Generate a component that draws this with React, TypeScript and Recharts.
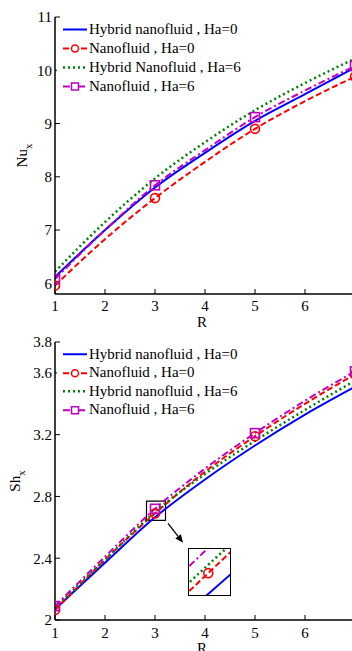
import React from 'react';
import { LineChart, Line, XAxis, YAxis, Legend, ReferenceArea, ReferenceLine } from 'recharts';

// ---------- data ----------
const R = [1, 2, 3, 4, 5, 6, 7];
const nuHybridHa0 = [6.12, 7.0, 7.8, 8.45, 9.05, 9.55, 10.05];
const nuNanoHa0 = [5.96, 6.83, 7.6, 8.28, 8.9, 9.42, 9.88];
const nuHybridHa6 = [6.22, 7.15, 7.97, 8.65, 9.25, 9.76, 10.22];
const nuNanoHa6 = [6.08, 7.0, 7.84, 8.5, 9.12, 9.62, 10.08];

const shHybridHa0 = [2.07, 2.37, 2.665, 2.91, 3.13, 3.33, 3.51];
const shNanoHa0 = [2.065, 2.39, 2.69, 2.96, 3.19, 3.4, 3.59];
const shHybridHa6 = [2.08, 2.39, 2.7, 2.945, 3.16, 3.36, 3.55];
const shNanoHa6 = [2.09, 2.41, 2.72, 2.98, 3.21, 3.42, 3.61];

const xTicks = [1, 2, 3, 4, 5, 6, 7];
const nuTicks = [6, 7, 8, 9, 10, 11];
const shTicks = [2, 2.4, 2.8, 3.2, 3.6, 3.8];
const markerR = [1, 3, 5, 7];

const nuLegend = ['Hybrid nanofluid , Ha=0', 'Nanofluid , Ha=0', 'Hybrid Nanofluid , Ha=6', 'Nanofluid , Ha=6'];
const shLegend = ['Hybrid nanofluid , Ha=0', 'Nanofluid , Ha=0', 'Hybrid nanofluid , Ha=6', 'Nanofluid , Ha=6'];

const nuData = R.map((r, i) => ({ R: r, a: nuHybridHa0[i], b: nuNanoHa0[i], c: nuHybridHa6[i], d: nuNanoHa6[i] }));
const shData = R.map((r, i) => ({ R: r, a: shHybridHa0[i], b: shNanoHa0[i], c: shHybridHa6[i], d: shNanoHa6[i] }));

// ---------- styles ----------
const FONT = '"Liberation Serif", "Times New Roman", serif';
type Kind = 'none' | 'circle' | 'square';
const series: { key: string; color: string; dash?: string; width: number; marker: Kind }[] = [
  { key: 'a', color: '#0000FF', width: 2, marker: 'none' },
  { key: 'b', color: '#FF0000', dash: '6 3', width: 2, marker: 'circle' },
  { key: 'c', color: '#008000', dash: '2 3', width: 2.5, marker: 'none' },
  { key: 'd', color: '#BF00BF', dash: '7 3 2 3', width: 2, marker: 'square' },
];

const dotFor = (kind: Kind, color: string) => (p: any) => {
  const { cx, cy, payload, index } = p;
  if (kind === 'none' || cx == null || cy == null || !markerR.includes(payload.R)) return <g key={`n${index}`} />;
  if (kind === 'circle')
    return <circle key={`c${index}`} cx={cx} cy={cy} r={4.5} fill="none" stroke={color} strokeWidth={1.6} />;
  return <rect key={`s${index}`} x={cx - 4.5} y={cy - 4.5} width={9} height={9} fill="none" stroke={color} strokeWidth={1.6} />;
};

const LegendBox = ({ labels, rowH }: { labels: string[]; rowH: number }) => (
  <div style={{ background: '#fff', fontFamily: FONT, fontSize: 15, color: '#000' }}>
    {series.map((s, i) => (
      <div key={s.key} style={{ display: 'flex', alignItems: 'center', height: rowH, whiteSpace: 'nowrap' }}>
        <svg width={32} height={rowH} style={{ flex: 'none' }}>
          <line x1={6} x2={30} y1={rowH / 2} y2={rowH / 2} stroke={s.color} strokeWidth={s.width} strokeDasharray={s.dash} />
          {s.marker === 'circle' && <circle cx={18} cy={rowH / 2} r={3.5} fill="#fff" stroke={s.color} strokeWidth={1.5} />}
          {s.marker === 'square' && <rect x={14.5} y={rowH / 2 - 3.5} width={7} height={7} fill="#fff" stroke={s.color} strokeWidth={1.5} />}
        </svg>
        <span>{labels[i]}</span>
      </div>
    ))}
  </div>
);

const tickStyle = { fontFamily: FONT, fontSize: 15, fill: '#000' };
const axisLine = { stroke: '#000', strokeWidth: 1.5 };

const YLabel = (name: string, bx: number) => (props: any) => {
  const vb = props.viewBox || {};
  const cy = (vb.y || 0) + (vb.height || 0) / 2;
  return (
    <text transform={`translate(${bx},${cy}) rotate(-90)`} textAnchor="middle" fontFamily={FONT} fontSize={15} fill="#000">
      {name}
      <tspan fontSize={11} dy={5}>x</tspan>
    </text>
  );
};

const XLabel = (props: any) => {
  const vb = props.viewBox || {};
  return (
    <text x={(vb.x || 0) + (vb.width || 0) / 2 - 3} y={(vb.y || 0) + 33} textAnchor="middle" fontFamily={FONT} fontSize={15} fill="#000">
      R
    </text>
  );
};

const Arrow = (p: any) => {
  const { x1, y1, x2, y2 } = p;
  if ([x1, y1, x2, y2].some((v) => v == null || isNaN(v))) return <g />;
  const ang = Math.atan2(y2 - y1, x2 - x1);
  const L = 8, W = 3.5;
  const bx = x2 - L * Math.cos(ang), by = y2 - L * Math.sin(ang);
  const px = -Math.sin(ang) * W, py = Math.cos(ang) * W;
  return (
    <g>
      <line x1={x1} y1={y1} x2={bx} y2={by} stroke="#000" strokeWidth={1.3} />
      <polygon points={`${x2},${y2} ${bx + px},${by + py} ${bx - px},${by - py}`} fill="#000" />
    </g>
  );
};

const renderLines = (dots: boolean) =>
  series.map((s) => (
    <Line
      key={s.key}
      dataKey={s.key}
      type="monotone"
      stroke={s.color}
      strokeWidth={s.width}
      strokeDasharray={s.dash}
      dot={dots ? dotFor(s.marker, s.color) : s.key === 'b' ? dotFor('circle', s.color) : false}
      activeDot={false}
      isAnimationActive={false}
    />
  ));

const frameAxes = (yDomain: number[], yTicks: number[]) => [
  <XAxis key="xt" xAxisId="t" orientation="top" type="number" dataKey="R" domain={[1, 7]} ticks={xTicks} allowDataOverflow height={0} tick={false} tickSize={-5} axisLine={axisLine} tickLine={{ stroke: '#000' }} />,
  <YAxis key="yr" yAxisId="r" orientation="right" type="number" domain={yDomain} ticks={yTicks} allowDataOverflow width={0} tick={false} tickSize={-5} axisLine={axisLine} tickLine={{ stroke: '#000' }} />,
];

export default function App() {
  return (
    <div style={{ position: 'fixed', left: 0, top: 0, width: 352, height: 651, overflow: 'hidden', background: '#fff' }}>
      {/* Top chart: Nu_x */}
      <div style={{ position: 'absolute', left: 0, top: 0 }}>
        <LineChart width={360} height={330} data={nuData} margin={{ top: 17, right: 5, bottom: 6, left: 0 }}>
          <XAxis type="number" dataKey="R" domain={[1, 7]} ticks={xTicks} allowDataOverflow height={30} tickSize={-5} tickMargin={11} tick={tickStyle} axisLine={axisLine} tickLine={{ stroke: '#000' }} label={<XLabel />} />
          <YAxis type="number" domain={[5.8, 11]} ticks={nuTicks} allowDataOverflow width={55} tickSize={-5} tickMargin={8} tick={tickStyle} axisLine={axisLine} tickLine={{ stroke: '#000' }} label={YLabel('Nu', 27)} />
          {frameAxes([5.8, 11], nuTicks)}
          {renderLines(true)}
          <Legend
            layout="vertical"
            align="center"
            verticalAlign="middle"
            wrapperStyle={{ top: 20, left: 57, width: 186, height: 76 }}
            content={() => <LegendBox labels={nuLegend} rowH={19} />}
          />
        </LineChart>
      </div>

      {/* Bottom chart: Sh_x */}
      <div style={{ position: 'absolute', left: 0, top: 325 }}>
        <LineChart width={360} height={326} data={shData} margin={{ top: 17, right: 5, bottom: 1, left: 0 }}>
          <XAxis type="number" dataKey="R" domain={[1, 7]} ticks={xTicks} allowDataOverflow height={30} tickSize={-5} tickMargin={12} tick={tickStyle} axisLine={axisLine} tickLine={{ stroke: '#000' }} label={<XLabel />} />
          <YAxis type="number" domain={[2, 3.8]} ticks={shTicks} allowDataOverflow width={55} tickSize={-5} tickMargin={8} tick={tickStyle} axisLine={axisLine} tickLine={{ stroke: '#000' }} label={YLabel('Sh', 20)} />
          {frameAxes([2, 3.8], shTicks)}
          {renderLines(true)}
          <ReferenceArea x1={2.83} x2={3.21} y1={2.645} y2={2.77} stroke="#000" strokeWidth={1.2} fill="none" fillOpacity={0} ifOverflow="visible" />
          <ReferenceLine segment={[{ x: 3.26, y: 2.625 }, { x: 3.56, y: 2.5 }]} ifOverflow="visible" shape={Arrow} />
          <Legend
            layout="vertical"
            align="center"
            verticalAlign="middle"
            wrapperStyle={{ top: 20, left: 57, width: 186, height: 74 }}
            content={() => <LegendBox labels={shLegend} rowH={18.5} />}
          />
        </LineChart>
        {/* Inset zoom */}
        <div style={{ position: 'absolute', left: 188, top: 223, width: 43, height: 48, background: '#fff' }}>
          <LineChart width={43} height={48} data={shData} margin={{ top: 0, right: 0, bottom: 0, left: 0 }}>
            <XAxis type="number" dataKey="R" domain={[2.92, 3.09]} allowDataOverflow hide />
            <YAxis type="number" domain={[2.6627, 2.72]} allowDataOverflow hide />
            {renderLines(false)}
          </LineChart>
          <div style={{ position: 'absolute', left: 0, top: 0, width: 43, height: 48, border: '1.5px solid #000', boxSizing: 'border-box' }} />
        </div>
      </div>
    </div>
  );
}
